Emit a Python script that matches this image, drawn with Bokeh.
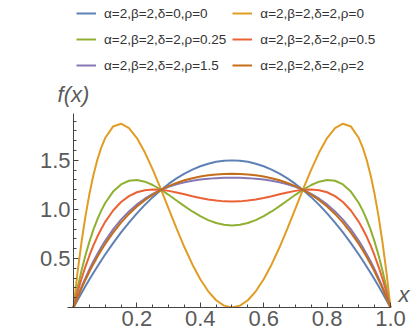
from bokeh.plotting import figure
from bokeh.models import Legend, LegendItem, Range1d, Label, FixedTicker
from bokeh.embed import file_html
from bokeh.resources import INLINE

# ---- data ----
x = [0.0, 0.0125, 0.025, 0.0375, 0.05, 0.0625, 0.075, 0.0875, 0.1, 0.125, 0.15,
     0.175, 0.2, 0.225, 0.25, 0.275, 0.3, 0.325, 0.35, 0.375, 0.4, 0.425, 0.45,
     0.475, 0.5, 0.525, 0.55, 0.575, 0.6, 0.625, 0.65, 0.675, 0.7, 0.725, 0.75,
     0.775, 0.8, 0.825, 0.85, 0.875, 0.9, 0.9125, 0.925, 0.9375, 0.95, 0.9625,
     0.975, 0.9875, 1.0]

f_d0_r0 = [0, 0.074, 0.146, 0.217, 0.285, 0.352, 0.416, 0.479, 0.54, 0.656, 0.765,
           0.866, 0.96, 1.046, 1.125, 1.196, 1.26, 1.316, 1.365, 1.406, 1.44, 1.466, 1.485,
           1.496, 1.5, 1.496, 1.485, 1.466, 1.44, 1.406, 1.365, 1.316, 1.26, 1.196, 1.125,
           1.046, 0.96, 0.866, 0.765, 0.656, 0.54, 0.479, 0.416, 0.352, 0.285, 0.217,
           0.146, 0.074, 0]

f_d2_r0 = [0, 0.352, 0.66, 0.926, 1.154, 1.346, 1.504, 1.63, 1.728, 1.846, 1.874,
           1.83, 1.728, 1.582, 1.406, 1.211, 1.008, 0.806, 0.614, 0.439, 0.288, 0.165, 0.074,
           0.019, 0, 0.019, 0.074, 0.165, 0.288, 0.439, 0.614, 0.806, 1.008, 1.211, 1.406,
           1.582, 1.728, 1.83, 1.874, 1.846, 1.728, 1.63, 1.504, 1.346, 1.154, 0.926,
           0.66, 0.352, 0]

f_d2_r025 = [0, 0.197, 0.373, 0.53, 0.669, 0.791, 0.897, 0.988, 1.065, 1.182, 1.255,
             1.292, 1.299, 1.283, 1.249, 1.203, 1.149, 1.091, 1.033, 0.979, 0.931, 0.891, 0.861,
             0.843, 0.837, 0.843, 0.861, 0.891, 0.931, 0.979, 1.033, 1.091, 1.149, 1.203, 1.249,
             1.283, 1.299, 1.292, 1.255, 1.182, 1.065, 0.988, 0.897, 0.791, 0.669, 0.53,
             0.373, 0.197, 0]

f_d2_r05 = [0, 0.152, 0.29, 0.415, 0.528, 0.63, 0.721, 0.801, 0.873, 0.989, 1.076,
            1.136, 1.175, 1.196, 1.204, 1.2, 1.189, 1.173, 1.155, 1.135, 1.117, 1.102, 1.09,
            1.082, 1.08, 1.082, 1.09, 1.102, 1.117, 1.135, 1.155, 1.173, 1.189, 1.2, 1.204,
            1.196, 1.175, 1.136, 1.076, 0.989, 0.873, 0.801, 0.721, 0.63, 0.528, 0.415,
            0.29, 0.152, 0]

f_d2_r15 = [0, 0.107, 0.207, 0.3, 0.388, 0.469, 0.544, 0.615, 0.68, 0.796, 0.896,
            0.98, 1.051, 1.109, 1.158, 1.198, 1.23, 1.256, 1.276, 1.292, 1.304, 1.312, 1.319,
            1.322, 1.323, 1.322, 1.319, 1.312, 1.304, 1.292, 1.276, 1.256, 1.23, 1.198, 1.158,
            1.109, 1.051, 0.98, 0.896, 0.796, 0.68, 0.615, 0.544, 0.469, 0.388, 0.3,
            0.207, 0.107, 0]

f_d2_r2 = [0, 0.099, 0.193, 0.281, 0.364, 0.442, 0.515, 0.584, 0.648, 0.764, 0.866,
           0.954, 1.03, 1.095, 1.151, 1.197, 1.237, 1.27, 1.297, 1.318, 1.335, 1.348, 1.357,
           1.362, 1.364, 1.362, 1.357, 1.348, 1.335, 1.318, 1.297, 1.27, 1.237, 1.197, 1.151,
           1.095, 1.03, 0.954, 0.866, 0.764, 0.648, 0.584, 0.515, 0.442, 0.364, 0.281,
           0.193, 0.099, 0]

series = [f_d0_r0, f_d2_r0, f_d2_r025, f_d2_r05, f_d2_r15, f_d2_r2]
labels = ["α=2,β=2,δ=0,ρ=0", "α=2,β=2,δ=2,ρ=0",
          "α=2,β=2,δ=2,ρ=0.25", "α=2,β=2,δ=2,ρ=0.5",
          "α=2,β=2,δ=2,ρ=1.5", "α=2,β=2,δ=2,ρ=2"]
colors = ["#5E81B5", "#E19C24", "#8FB032", "#EB6235", "#8778B3", "#C56E1A"]

x_ticks = [0.2, 0.4, 0.6, 0.8, 1.0]
x_tick_labels = ["0.2", "0.4", "0.6", "0.8", "1.0"]
y_ticks = [0.5, 1.0, 1.5]
y_tick_labels = ["0.5", "1.0", "1.5"]

FONT = "Liberation Sans"
W, H = 417, 336
BOTTOM = 29
Y_AXIS_TOP = 1.98

p = figure(width=W, height=H, output_backend="svg", toolbar_location=None,
           x_range=Range1d(-0.2303, 1.0852), y_range=Range1d(0, 3.13),
           min_border_left=0, min_border_right=0,
           min_border_top=0, min_border_bottom=BOTTOM)
p.outline_line_color = None
p.grid.visible = False
p.background_fill_color = "white"
p.border_fill_color = "white"

renderers = []
for ys, c in zip(series, colors):
    r = p.line(x, ys, line_color=c, line_width=2)
    renderers.append(r)

items = [LegendItem(label=l, renderers=[r]) for l, r in zip(labels, renderers)]
frame_h = H - BOTTOM
legend_h = 3 * 20 + 2 * 6
legend = Legend(items=items, orientation="horizontal", ncols=2,
                location=(76, frame_h - 3 - legend_h), margin=0, padding=0,
                border_line_alpha=0, background_fill_alpha=0,
                label_text_font=FONT, label_text_font_size="13.5px",
                label_text_color="#333333", glyph_width=20, glyph_height=20,
                label_height=20, label_standoff=8, spacing=6)
p.add_layout(legend)

for ax, ticks, tl, minor, bnds in ((p.xaxis[0], x_ticks, x_tick_labels,
                                    [i * 0.05 for i in range(21)], (-0.02, 1.0)),
                                   (p.yaxis[0], y_ticks, y_tick_labels,
                                    [i * 0.1 for i in range(20)], (0, Y_AXIS_TOP))):
    ax.ticker = FixedTicker(ticks=ticks, minor_ticks=minor)
    ax.major_label_overrides = {t: s for t, s in zip(ticks, tl)}
    ax.bounds = bnds
    ax.axis_line_color = "#444444"
    ax.major_tick_line_color = "#444444"
    ax.minor_tick_line_color = "#444444"
    ax.major_tick_in = 5
    ax.major_tick_out = 0
    ax.minor_tick_in = 3
    ax.minor_tick_out = 0
    ax.major_label_text_font = FONT
    ax.major_label_text_font_size = "22px"
    ax.major_label_text_color = "#5a5a5a"
    ax.major_label_standoff = 3
p.yaxis[0].fixed_location = 0

p.add_layout(Label(x=0, y=Y_AXIS_TOP, text="f(x)", text_align="center",
                   text_baseline="bottom", y_offset=6, text_font=FONT,
                   text_font_style="italic", text_font_size="22px",
                   text_color="#5a5a5a"))
p.add_layout(Label(x=1, y=0, text="x", text_align="left",
                   text_baseline="bottom", x_offset=8, y_offset=1, text_font=FONT,
                   text_font_style="italic", text_font_size="22px",
                   text_color="#5a5a5a"))

open("out.html", "w").write(file_html(p, INLINE))
